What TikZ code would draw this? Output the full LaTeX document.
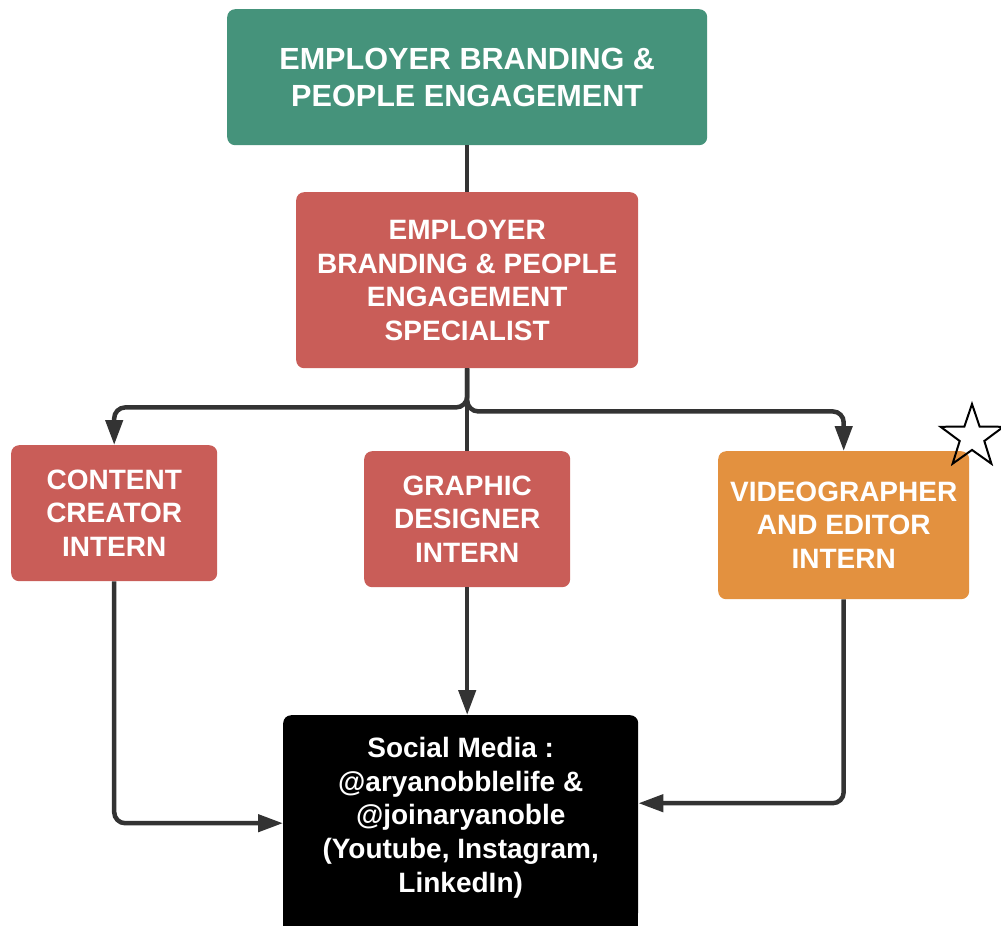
\documentclass[tikz,border=0pt]{standalone}
\usepackage{fontspec}
\setmainfont{Liberation Sans}
\usetikzlibrary{arrows.meta,shapes.geometric}
\definecolor{tealbox}{HTML}{45937B}
\definecolor{redbox}{HTML}{C95D58}
\definecolor{orangebox}{HTML}{E3913F}
\definecolor{linegray}{HTML}{333333}
\begin{document}
\begin{tikzpicture}[x=1pt,y=-1pt,
  box/.style={draw=none, rounded corners=8pt, inner sep=0pt, align=center, text=white,
    font=\fontsize{28}{33.6}\selectfont\bfseries, anchor=north west},
  conn/.style={draw=linegray, line width=4.5pt, rounded corners=11pt},
  arr/.style={conn, -{Triangle[length=25pt,width=17pt]}}]
\useasboundingbox (0,0) rectangle (1001,926);
\node[box, fill=tealbox, minimum width=480pt, minimum height=136pt,
  font=\fontsize{30.6}{36.7}\selectfont\bfseries] (top) at (227,9)
  {EMPLOYER BRANDING \&\\PEOPLE ENGAGEMENT};
\node[box, fill=redbox, minimum width=342pt, minimum height=176pt] (spec) at (296,192)
  {EMPLOYER\\BRANDING \& PEOPLE\\ENGAGEMENT\\SPECIALIST};
\node[box, fill=redbox, minimum width=206pt, minimum height=136pt] (content) at (11,445)
  {CONTENT\\CREATOR\\INTERN};
\node[box, fill=redbox, minimum width=206pt, minimum height=136pt] (graphic) at (364,451)
  {GRAPHIC\\DESIGNER\\INTERN};
\node[box, fill=orangebox, minimum width=251pt, minimum height=148pt] (video) at (718,451)
  {VIDEOGRAPHER\\AND EDITOR\\INTERN};
\node[box, fill=black, minimum width=355pt, minimum height=205pt] (social) at (283,715)
  {Social Media :\\@aryanobblelife \&\\@joinaryanoble\\(Youtube, Instagram,\\LinkedIn)};
\fill[black] ([yshift=8pt]social.south west) rectangle ([yshift=-15pt]social.south east);
\node[star, star points=5, star point ratio=2.55, minimum size=66pt, inner sep=0pt,
  draw=black, line width=2pt] (star) at (972,437) {};
\draw[conn] (top.south) -- (spec.north);
\draw[conn] (spec.south) -- (graphic.north);
\draw[arr] (spec.south) -- ++(0,39) -| (content.north);
\draw[arr] (spec.south) -- ++(0,43) -| (video.north);
\draw[arr] (content.south) |- ([yshift=-5.5pt]social.west);
\draw[arr] (graphic.south) -- (graphic.south |- social.north);
\draw[arr] (video.south) |- ([yshift=14.5pt]social.east);
\end{tikzpicture}
\end{document}
